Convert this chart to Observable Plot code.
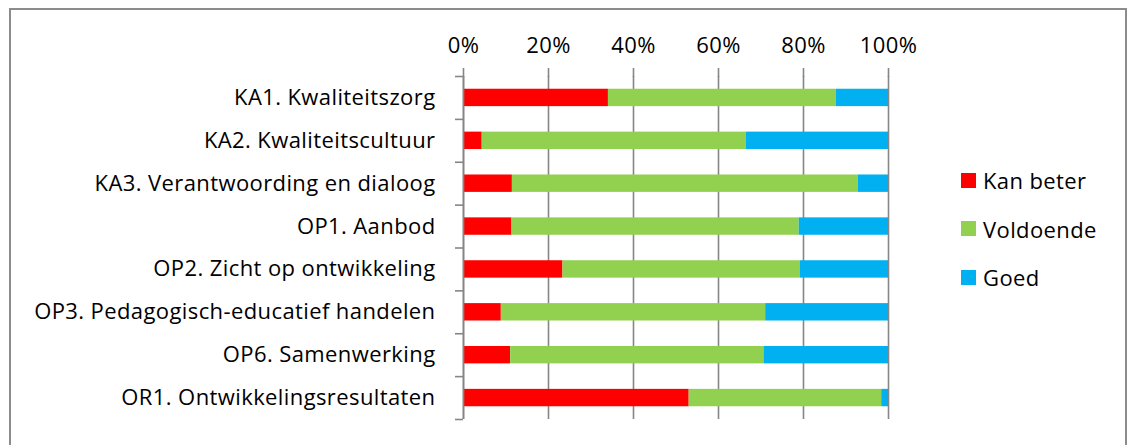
<!DOCTYPE html>
<html>
<head>
<meta charset="utf-8">
<script src="https://cdn.jsdelivr.net/npm/d3@7"></script>
<script src="https://cdn.jsdelivr.net/npm/@observablehq/plot@0.6"></script>
<style>
  html, body { margin: 0; padding: 0; background: #fff; overflow: hidden; }
  #wrap { position: relative; width: 1133px; height: 445px; font-family: "Open Sans", sans-serif; }
  #frame { position: absolute; left: 9px; top: 8px; width: 1118px; height: 460px; border: 2px solid #8c8c8c; box-sizing: border-box; pointer-events: none; }
  #chart { position: absolute; left: 0; top: 0; }
  #legend { position: absolute; left: 961px; top: 156px; font-size: 22px; letter-spacing: 0.4px; color: #000; }
  .item { display: flex; align-items: center; height: 48.5px; }
  .sw { width: 15px; height: 15px; margin-right: 7px; }
</style>
</head>
<body>
<div id="wrap">
  <div id="chart"></div>
  <div id="legend"></div>
  <div id="frame"></div>
</div>
<script>
const categories = [
  "KA1. Kwaliteitszorg",
  "KA2. Kwaliteitscultuur",
  "KA3. Verantwoording en dialoog",
  "OP1. Aanbod",
  "OP2. Zicht op ontwikkeling",
  "OP3. Pedagogisch-educatief handelen",
  "OP6. Samenwerking",
  "OR1. Ontwikkelingsresultaten"
];
const ratings = ["Kan beter", "Voldoende", "Goed"];
const colors = ["#FF0000", "#92D050", "#00B0F0"];
const kanBeter  = [34.1, 4.4, 11.5, 11.4, 23.4, 8.9, 11.1, 53.1];
const voldoende = [53.6, 62.1, 81.4, 67.6, 55.8, 62.2, 59.6, 45.3];
const goed      = [12.3, 33.5, 7.1, 21.0, 20.8, 28.9, 29.3, 1.6];
const xTicks = [0, 0.2, 0.4, 0.6, 0.8, 1];

const series = [kanBeter, voldoende, goed];
const data = [];
categories.forEach((c, i) => {
  ratings.forEach((r, j) => data.push({category: c, rating: r, value: series[j][i]}));
});

const width = 1133, height = 445;
const marginTop = 76, marginBottom = 26, marginLeft = 463, marginRight = 245;
const step = (height - marginTop - marginBottom) / categories.length;
const inset = (step - 17.4) / 2;
const gray = "#868686";
const fs = 22;

const plot = Plot.plot({
  width, height, marginTop, marginBottom, marginLeft, marginRight,
  style: {fontFamily: "'Open Sans', sans-serif", fontSize: fs + "px", letterSpacing: "0.4px", color: "#000", background: "transparent"},
  x: {domain: [0, 1]},
  y: {domain: categories, padding: 0, round: false},
  color: {domain: ratings, range: colors},
  marks: [
    Plot.ruleX(xTicks, {stroke: gray, strokeWidth: 1.6}),
    Plot.barX(data, Plot.stackX({
      x: "value", y: "category", fill: "rating", offset: "normalize", order: ratings,
      insetTop: inset, insetBottom: inset
    })),
    Plot.axisX(xTicks, {anchor: "top", tickSize: 9, tickPadding: 15, stroke: gray, strokeWidth: 1.6,
      tickFormat: d3.format(".0%"), fill: "#000", fontSize: fs, label: null}),
    Plot.ruleX([0], {stroke: gray, strokeWidth: 1.6}),
    Plot.axisY(categories, {anchor: "left", tickSize: 0, tickPadding: 28, fill: "#000", fontSize: fs, label: null}),
    Plot.axisY(categories, {anchor: "left", tickSize: 8, text: null, stroke: gray, strokeWidth: 1.6, dy: -step / 2, label: null}),
    Plot.axisY(categories.slice(-1), {anchor: "left", tickSize: 8, text: null, stroke: gray, strokeWidth: 1.6, dy: step / 2, label: null})
  ]
});
document.getElementById("chart").appendChild(plot);

const legend = document.getElementById("legend");
ratings.forEach((r, i) => {
  const item = document.createElement("div");
  item.className = "item";
  const sw = document.createElement("div");
  sw.className = "sw";
  sw.style.background = colors[i];
  const t = document.createElement("span");
  t.textContent = r;
  item.appendChild(sw);
  item.appendChild(t);
  legend.appendChild(item);
});
</script>
</body>
</html>
